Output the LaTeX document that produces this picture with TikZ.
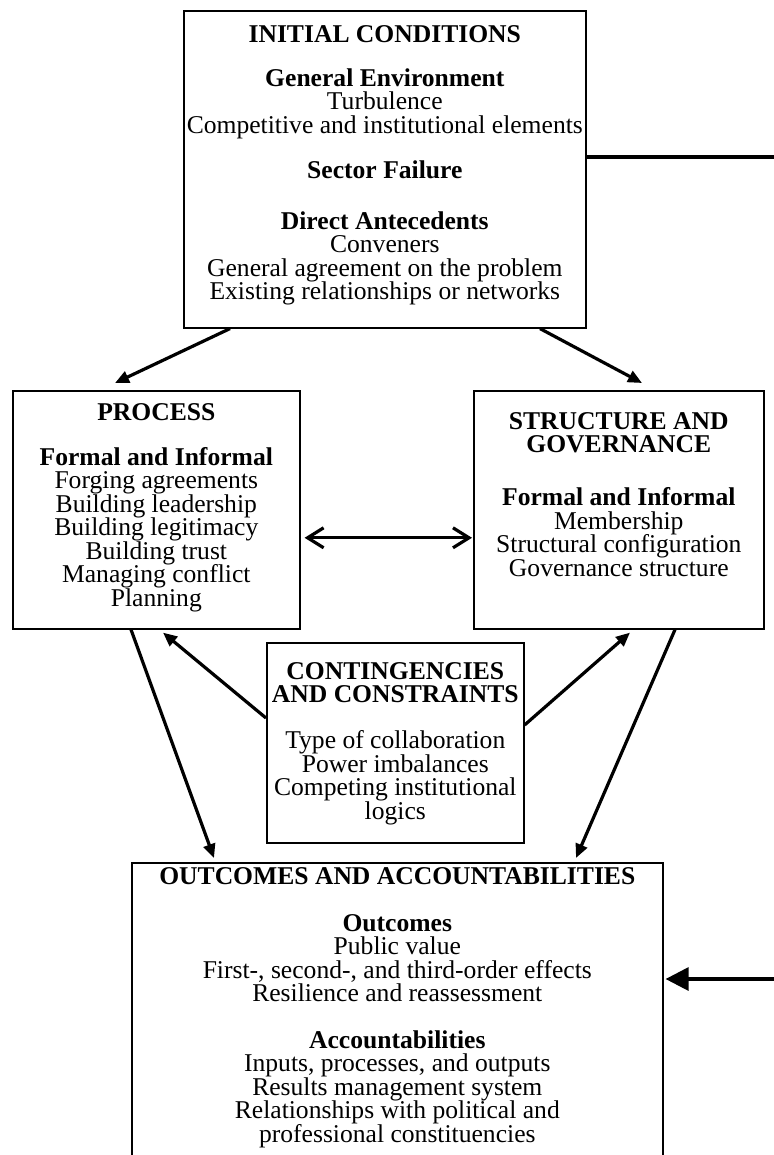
\documentclass[tikz,border=0pt]{standalone}
\usepackage{fontspec}
\setmainfont{Liberation Serif}
\usepackage{tikz}
\usetikzlibrary{positioning,calc,arrows.meta}
\setlength{\lineskiplimit}{-20pt}

\begin{document}
\begin{tikzpicture}[x=0.5pt,y=-0.5pt,
    panel/.style={draw,line width=0.8pt,fill=white,inner sep=0pt,anchor=north west},
    paneltext/.style={align=center,inner sep=0pt,font=\fontsize{12.8}{11.75}\selectfont},
    link/.style={line width=1.6pt,-{Triangle[length=7pt,width=6pt]}},
    both/.style={line width=1.6pt,{Straight Barb[length=8pt,width=10pt]}-{Straight Barb[length=8pt,width=10pt]}},
    feed/.style={line width=1.6pt,-{Triangle[length=11.5pt,width=11.5pt]}}]
    \path[use as bounding box,clip] (0,0) rectangle (774,1155);

    % Initial conditions
    \node[panel,minimum width=201pt,minimum height=158.5pt] (init) at (183,10) {};
    \node[paneltext,below=7.5pt of init.north] (init-txt) {\textbf{INITIAL CONDITIONS}\\[10.25pt]
        \textbf{General Environment}\\ Turbulence\\ Competitive and institutional elements\\[11pt]
        \textbf{Sector Failure}\\[13.5pt]
        \textbf{Direct Antecedents}\\ Conveners\\ General agreement on the problem\\ Existing relationships or networks};

    % Process
    \node[panel,minimum width=143.5pt,minimum height=119pt] (proc) at (12,390) {};
    \node[paneltext,below=6.5pt of proc.north] (proc-txt) {\textbf{PROCESS}\\[10.75pt]
        \textbf{Formal and Informal}\\ Forging agreements\\ Building leadership\\ Building legitimacy\\
        Building trust\\ Managing conflict\\ Planning};

    % Structure and governance
    \node[panel,minimum width=145pt,minimum height=119pt] (gov) at (473,390) {};
    \node[paneltext,below=11pt of gov.north] (gov-txt) {\textbf{STRUCTURE AND}\\ \textbf{GOVERNANCE}\\[14.75pt]
        \textbf{Formal and Informal}\\ Membership\\ Structural configuration\\ Governance structure};

    % Contingencies and constraints
    \node[panel,minimum width=128.5pt,minimum height=100pt] (cont) at (266,642) {};
    \node[paneltext,below=10pt of cont.north] (cont-txt) {\textbf{CONTINGENCIES}\\ \textbf{AND CONSTRAINTS}\\[11.25pt]
        Type of collaboration\\ Power imbalances\\ Competing institutional\\ logics};

    % Outcomes and accountabilities (runs past the bottom edge)
    \node[panel,minimum width=265.5pt,minimum height=160pt] (outc) at (131,862) {};
    \node[paneltext,below=2.5pt of outc.north] (outc-txt) {\textbf{OUTCOMES AND ACCOUNTABILITIES}\\[11.75pt]
        \textbf{Outcomes}\\ Public value\\ First-, second-, and third-order effects\\ Resilience and reassessment\\[11.5pt]
        \textbf{Accountabilities}\\ Inputs, processes, and outputs\\ Results management system\\
        Relationships with political and\\ professional constituencies};

    % Links
    \draw[link] ($(init.south west)+(47,0)$) -- ($(proc.north west)+(103,-7)$);
    \draw[link] ($(init.south west)+(357,0)$) -- ($(gov.north west)+(169,-7)$);
    \draw[both] ($(proc.east)+(4,28)$) -- ($(gov.west)+(-1,28)$);
    \draw[link] ($(proc.south west)+(119,0)$) -- ($(outc.north west)+(83,-4)$);
    \draw[link] ($(gov.south west)+(202,0)$) -- ($(outc.north west)+(445,-4)$);
    \draw[link] ($(cont.north west)+(0,76)$) -- ($(proc.south west)+(151,3)$);
    \draw[link] ($(cont.north east)+(0,83)$) -- ($(gov.south west)+(157,3)$);

    % Feedback loop on the right
    \coordinate (loop-top) at (774,157);
    \coordinate (loop-bot) at (774,979);
    \draw[line width=2pt] (init.east |- loop-top) -- (loop-top);
    \draw[feed] (loop-bot) -- ($(outc.east |- loop-bot)+(2,0)$);
\end{tikzpicture}
\end{document}
